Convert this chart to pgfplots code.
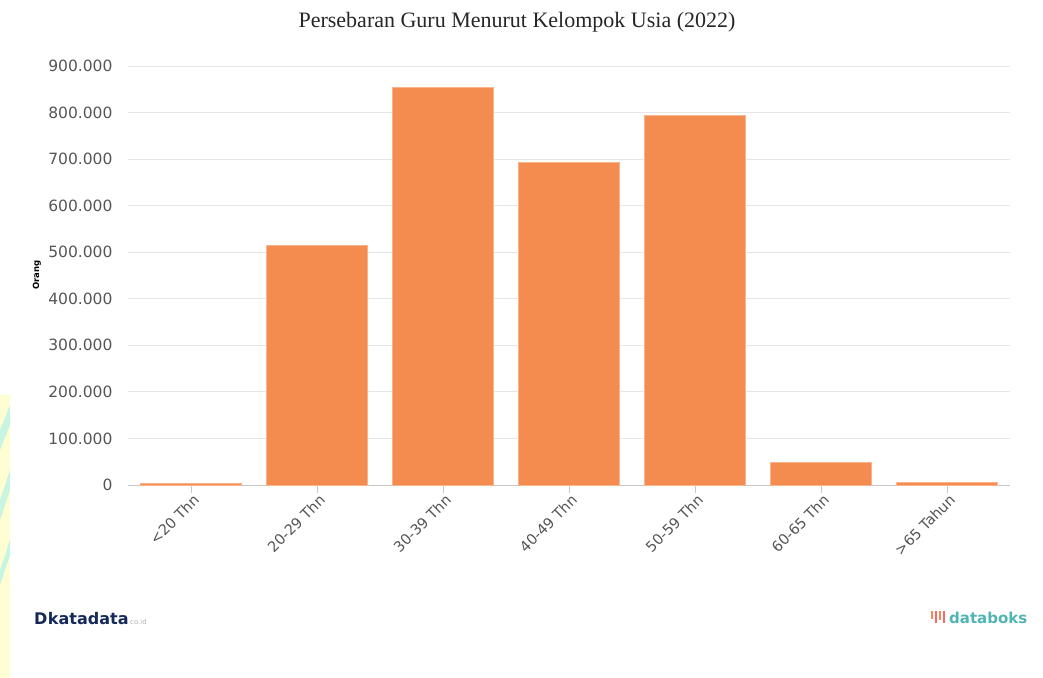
\documentclass[border=0pt]{standalone}
\usepackage{pgfplots}
\pgfplotsset{compat=1.18}
\usepackage{fontspec}
\setmainfont{DejaVu Sans}
\newfontfamily\titlefont{Liberation Serif}
\definecolor{barc}{RGB}{244,140,80}
\definecolor{barl}{RGB}{248,180,140}
\definecolor{ticktext}{RGB}{85,85,85}
\definecolor{gridc}{RGB}{230,230,230}
\definecolor{navy}{RGB}{20,40,90}
\definecolor{teal}{RGB}{80,180,180}
\definecolor{pale}{RGB}{255,253,210}
\definecolor{mint}{RGB}{200,245,225}
\begin{document}
\begin{tikzpicture}
\path[use as bounding box] (0bp,0bp) rectangle (1043bp,-678bp);
\fill[pale] (0bp,-395bp) rectangle (10bp,-678bp);
\fill[mint] (0bp,-430bp) -- (10bp,-405bp) -- (10bp,-425bp) -- (0bp,-450bp) -- cycle;
\fill[mint] (0bp,-500bp) -- (10bp,-470bp) -- (10bp,-490bp) -- (0bp,-520bp) -- cycle;
\fill[mint] (0bp,-570bp) -- (10bp,-540bp) -- (10bp,-555bp) -- (0bp,-585bp) -- cycle;
\node[font=\titlefont\fontsize{22bp}{24bp}\selectfont, text=black!85] at (517bp,-22bp) {Persebaran Guru Menurut Kelompok Usia (2022)};
\begin{axis}[
  at={(128bp,-485bp)}, anchor=south west,
  scale only axis, width=882bp, height=419bp,
  xmin=-0.5, xmax=6.5, ymin=0, ymax=900000,
  xtick={0,...,6},
  xticklabels={{<20 Thn},{20-29 Thn},{30-39 Thn},{40-49 Thn},{50-59 Thn},{60-65 Thn},{>65 Tahun}},
  ytick={0,100000,...,900000},
  yticklabels={0,100.000,200.000,300.000,400.000,500.000,600.000,700.000,800.000,900.000},
  scaled y ticks=false,
  ymajorgrids, grid style={gridc, line width=0.8pt},
  axis x line*=bottom, axis y line*=left,
  y axis line style={draw=none},
  x axis line style={draw=gray!45, line width=0.8pt, -},
  x tick style={draw=gray!45, line width=0.8pt},
  major tick length=8bp,
  tick align=outside,
  ytick style={draw=none},
  ticklabel style={text=ticktext},
  x tick label style={font=\fontsize{14.5bp}{16bp}\selectfont, rotate=45, anchor=north east, inner sep=1bp, xshift=2bp},
  y tick label style={font=\fontsize{15.5bp}{17bp}\selectfont, xshift=-4bp},
  clip=false,
]
\addplot[ybar, bar width=101bp, fill=barc, draw=barl, line width=0.8pt] coordinates {
 (0,2800) (1,515000) (2,853000) (3,693000) (4,794000) (5,49000) (6,5500)
};
\end{axis}
\node[rotate=90, font=\bfseries\fontsize{8.5bp}{10bp}\selectfont, inner sep=0] at (37bp,-275bp) {Orang};
\node[anchor=west, font=\bfseries\fontsize{16bp}{18bp}\selectfont, text=navy, inner sep=0] at (34bp,-619bp) {D\kern0.5bp katadata};
\node[anchor=west, font=\fontsize{7bp}{8bp}\selectfont, text=gray!60, inner sep=0] at (130bp,-622bp) {co.id};
\foreach \xx/\hh/\cc in {931/8/barc,935/12/red!60,939/9/barc,943/12/red!60}
  \fill[\cc] (\xx bp,-611bp) rectangle ++(2bp,-\hh bp);
\node[anchor=west, font=\bfseries\fontsize{15bp}{17bp}\selectfont, text=teal, inner sep=0] at (949bp,-618bp) {databoks};
\end{tikzpicture}
\end{document}
